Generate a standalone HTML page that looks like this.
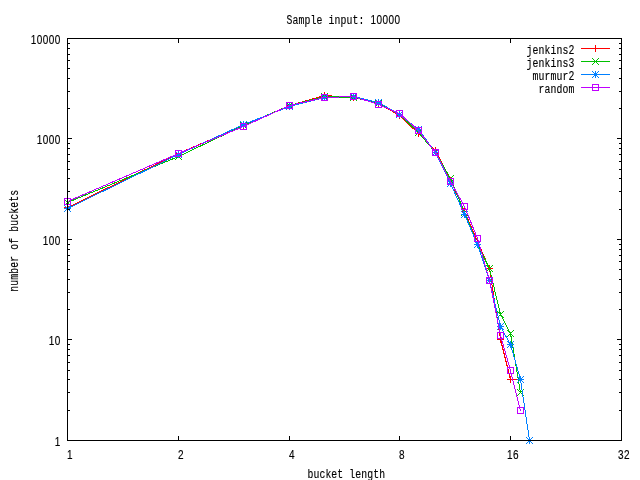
<!DOCTYPE html>
<html><head><meta charset="utf-8"><title>Sample input: 10000</title>
<style>
html,body{margin:0;padding:0;background:#fff;overflow:hidden}
svg{display:block}
text{font-family:"Liberation Mono",monospace;font-size:11px;letter-spacing:-0.6px;fill:#000;stroke:#000;stroke-width:0.12px;white-space:pre}
.n{font-family:"Liberation Sans",sans-serif;font-size:10px;letter-spacing:0.44px}
.tt{font-size:9.8px;letter-spacing:0.12px}
</style></head><body>
<svg width="640" height="480" viewBox="0 0 640 480">
<rect width="640" height="480" fill="#fff"/>
<g transform="translate(0.5,0.5)" fill="none" stroke-width="1" stroke-linecap="square" shape-rendering="crispEdges">
<g stroke="#ff0000">
<polyline points="67,207 178,153 243,125 289,105 324,95 353,97 378,103 399,115 418,133 435,150 450,180 464,211 477,241 489,268 500,339 510,379 520,379" stroke-linejoin="round"/>
<path d="M581 48H609"/>
<path d="M64 207H70M67 204V210M175 153H181M178 150V156M240 125H246M243 122V128M286 105H292M289 102V108M321 95H327M324 92V98M350 97H356M353 94V100M375 103H381M378 100V106M396 115H402M399 112V118M415 133H421M418 130V136M432 150H438M435 147V153M447 180H453M450 177V183M461 211H467M464 208V214M474 241H480M477 238V244M486 268H492M489 265V271M497 339H503M500 336V342M507 379H513M510 376V382M517 379H523M520 376V382M592 48H598M595 45V51"/>
</g>
<g stroke="#00c000">
<polyline points="67,202 178,156 243,125 289,105 324,96 353,97 378,103 399,114 418,132 435,152 450,178 464,212 477,244 489,268 500,314 510,333 520,392" stroke-linejoin="round"/>
<path d="M581 61H609"/>
<path d="M64 199L70 205M64 205L70 199M175 153L181 159M175 159L181 153M240 122L246 128M240 128L246 122M286 102L292 108M286 108L292 102M321 93L327 99M321 99L327 93M350 94L356 100M350 100L356 94M375 100L381 106M375 106L381 100M396 111L402 117M396 117L402 111M415 129L421 135M415 135L421 129M432 149L438 155M432 155L438 149M447 175L453 181M447 181L453 175M461 209L467 215M461 215L467 209M474 241L480 247M474 247L480 241M486 265L492 271M486 271L492 265M497 311L503 317M497 317L503 311M507 330L513 336M507 336L513 330M517 389L523 395M517 395L523 389M592 58L598 64M592 64L598 58"/>
</g>
<g stroke="#0080ff">
<polyline points="67,208 178,154 243,124 289,106 324,97 353,96 378,102 399,114 418,129 435,152 450,183 464,214 477,244 489,280 500,326 510,344 520,379 529,440" stroke-linejoin="round"/>
<path d="M581 74H609"/>
<path d="M64 208H70M67 205V211M64 205L70 211M64 211L70 205M175 154H181M178 151V157M175 151L181 157M175 157L181 151M240 124H246M243 121V127M240 121L246 127M240 127L246 121M286 106H292M289 103V109M286 103L292 109M286 109L292 103M321 97H327M324 94V100M321 94L327 100M321 100L327 94M350 96H356M353 93V99M350 93L356 99M350 99L356 93M375 102H381M378 99V105M375 99L381 105M375 105L381 99M396 114H402M399 111V117M396 111L402 117M396 117L402 111M415 129H421M418 126V132M415 126L421 132M415 132L421 126M432 152H438M435 149V155M432 149L438 155M432 155L438 149M447 183H453M450 180V186M447 180L453 186M447 186L453 180M461 214H467M464 211V217M461 211L467 217M461 217L467 211M474 244H480M477 241V247M474 241L480 247M474 247L480 241M486 280H492M489 277V283M486 277L492 283M486 283L492 277M497 326H503M500 323V329M497 323L503 329M497 329L503 323M507 344H513M510 341V347M507 341L513 347M507 347L513 341M517 379H523M520 376V382M517 376L523 382M517 382L523 376M526 440H532M529 437V443M526 437L532 443M526 443L532 437M592 74H598M595 71V77M592 71L598 77M592 77L598 71"/>
</g>
<g stroke="#c000ff">
<polyline points="67,201 178,153 243,126 289,105 324,97 353,96 378,104 399,113 418,130 435,152 450,181 464,206 477,238 489,280 500,335 510,370 520,410" stroke-linejoin="round"/>
<path d="M581 87H609"/>
<path d="M64 198H70V204H64ZM175 150H181V156H175ZM240 123H246V129H240ZM286 102H292V108H286ZM321 94H327V100H321ZM350 93H356V99H350ZM375 101H381V107H375ZM396 110H402V116H396ZM415 127H421V133H415ZM432 149H438V155H432ZM447 178H453V184H447ZM461 203H467V209H461ZM474 235H480V241H474ZM486 277H492V283H486ZM497 332H503V338H497ZM507 367H513V373H507ZM517 407H523V413H517ZM592 84H598V90H592Z"/>
</g>
<path stroke="#000" d="M67 38H621V440H67ZM67 440V436M67 38V42M178 440V436M178 38V42M289 440V436M289 38V42M399 440V436M399 38V42M510 440V436M510 38V42M621 440V436M621 38V42M67 440H71M621 440H617M67 410H69M621 410H619M67 392H69M621 392H619M67 379H69M621 379H619M67 370H69M621 370H619M67 362H69M621 362H619M67 355H69M621 355H619M67 349H69M621 349H619M67 344H69M621 344H619M67 339H71M621 339H617M67 309H69M621 309H619M67 292H69M621 292H619M67 279H69M621 279H619M67 269H69M621 269H619M67 261H69M621 261H619M67 255H69M621 255H619M67 249H69M621 249H619M67 244H69M621 244H619M67 239H71M621 239H617M67 209H69M621 209H619M67 191H69M621 191H619M67 178H69M621 178H619M67 169H69M621 169H619M67 161H69M621 161H619M67 154H69M621 154H619M67 148H69M621 148H619M67 143H69M621 143H619M67 138H71M621 138H617M67 108H69M621 108H619M67 91H69M621 91H619M67 78H69M621 78H619M67 68H69M621 68H619M67 60H69M621 60H619M67 54H69M621 54H619M67 48H69M621 48H619M67 43H69M621 43H619M67 38H71M621 38H617"/>
</g>
<g>
<text class="tt" transform="translate(286.5,24) scale(1,1.27)">Sample input: <tspan class="n">10000</tspan></text>
<text class="tt" transform="translate(307.4,478) scale(1,1.27)" text-anchor="start">bucket length</text>
<text class="tt" transform="translate(18,291.7) rotate(-90) scale(1,1.27)" text-anchor="start">number of buckets</text>
<text class="n" transform="translate(60.7,446) scale(1,1.27)" text-anchor="end">1</text>
<text class="n" transform="translate(60.7,345) scale(1,1.27)" text-anchor="end">10</text>
<text class="n" transform="translate(60.7,245) scale(1,1.27)" text-anchor="end">100</text>
<text class="n" transform="translate(60.7,144) scale(1,1.27)" text-anchor="end">1000</text>
<text class="n" transform="translate(60.7,44) scale(1,1.27)" text-anchor="end">10000</text>
<text class="n" transform="translate(67,459) scale(1,1.27)" text-anchor="start">1</text>
<text class="n" transform="translate(178,459) scale(1,1.27)" text-anchor="start">2</text>
<text class="n" transform="translate(289,459) scale(1,1.27)" text-anchor="start">4</text>
<text class="n" transform="translate(399,459) scale(1,1.27)" text-anchor="start">8</text>
<text class="n" transform="translate(507,459) scale(1,1.27)" text-anchor="start">16</text>
<text class="n" transform="translate(618,459) scale(1,1.27)" text-anchor="start">32</text>
<text class="tt" transform="translate(574.4,54) scale(1,1.27)" text-anchor="end">jenkins2</text>
<text class="tt" transform="translate(574.4,67) scale(1,1.27)" text-anchor="end">jenkins3</text>
<text class="tt" transform="translate(574.4,80) scale(1,1.27)" text-anchor="end">murmur2</text>
<text class="tt" transform="translate(574.4,93) scale(1,1.27)" text-anchor="end">random</text>
</g>
</svg>
</body></html>
